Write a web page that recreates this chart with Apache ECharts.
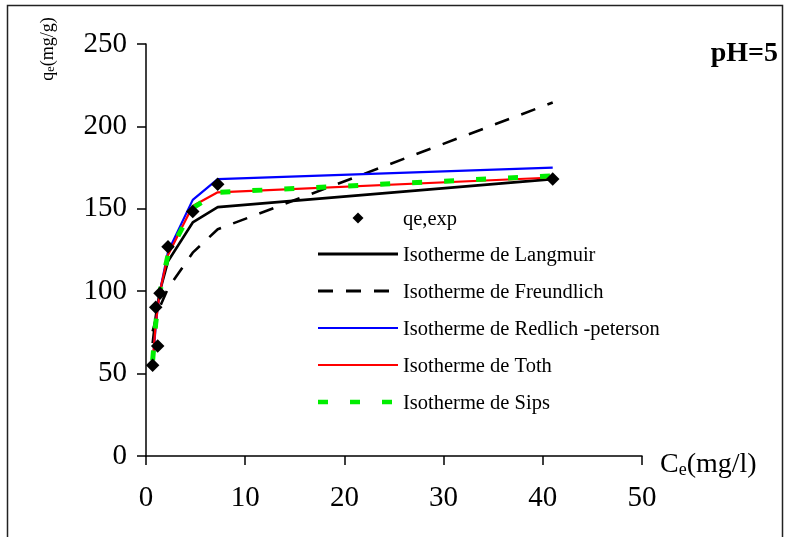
<!DOCTYPE html>
<html>
<head>
<meta charset="utf-8">
<script src="https://cdn.jsdelivr.net/npm/echarts@6/dist/echarts.min.js"></script>
<style>
  html, body { margin: 0; padding: 0; background: #fff; }
  #chart { width: 790px; height: 537px; }
</style>
</head>
<body>
<div id="chart"></div>
<script>
// Experimental equilibrium points (Ce in mg/l, qe in mg/g), pH = 5
const ceExp = [0.67, 1.18, 0.98, 1.41, 2.22, 4.71, 7.23, 41.0];
const qeExp = [55.1, 66.8, 90.2, 98.7, 127.0, 148.3, 164.9, 168.1];

// Model isotherms evaluated at the experimental concentrations (sorted)
const ceModel = [0.67, 0.98, 1.18, 1.41, 2.22, 4.71, 7.23, 41.0];
const qLangmuir = [68.5, 84.6, 92.6, 100.2, 118.2, 141.7, 151.0, 168.0];
const qFreundlich = [75.6, 82.7, 86.7, 90.7, 101.8, 123.4, 137.6, 214.5];
const qRedlichPeterson = [55.0, 79.0, 90.0, 100.0, 124.0, 155.4, 168.0, 175.0];
const qToth = [57.0, 80.0, 90.0, 100.0, 122.0, 151.7, 160.0, 169.0];
const qSips = [58.0, 80.5, 90.0, 100.0, 122.0, 150.5, 160.0, 170.0];

// Axis ticks
const xTicks = [0, 10, 20, 30, 40, 50];
const yTicks = [0, 50, 100, 150, 200, 250];

const seriesNames = [
  'qe,exp',
  'Isotherme de Langmuir',
  'Isotherme de Freundlich',
  'Isotherme de Redlich -peterson',
  'Isotherme de Toth',
  'Isotherme de Sips'
];

const SERIF = "'Liberation Serif', 'Times New Roman', serif";

// Line styles shared by the plotted curves and the key
const styles = {
  [seriesNames[1]]: { color: '#000000', width: 2.6, dash: 'solid', keyWidth: 3 },
  [seriesNames[2]]: { color: '#000000', width: 2.6, dash: [15, 13], keyWidth: 3 },
  [seriesNames[3]]: { color: '#0000ff', width: 2.2, dash: 'solid', keyWidth: 2.2 },
  [seriesNames[4]]: { color: '#ff0000', width: 2.2, dash: 'solid', keyWidth: 2.2 },
  [seriesNames[5]]: { color: '#00ee00', width: 5, dash: [10, 22], keyWidth: 4.5 }
};

function pairs(xs, ys) {
  return xs.map((x, i) => [x, ys[i]]);
}

function lineSeries(name, ys) {
  const s = styles[name];
  return {
    name: name,
    type: 'line',
    data: pairs(ceModel, ys),
    symbol: 'none',
    smooth: false,
    z: 2,
    lineStyle: { color: s.color, width: s.width, type: s.dash, cap: 'butt' },
    itemStyle: { color: s.color },
    emphasis: { disabled: true },
    animation: false
  };
}

// Key drawn as a small block of graphic elements
function buildKey() {
  const left = 318, right = 398, textX = 403;
  const rows = [218, 254, 291, 328, 365, 402];
  const els = [];
  seriesNames.forEach((name, i) => {
    const y = rows[i];
    if (i === 0) {
      const cx = (left + right) / 2, r = 5.5;
      els.push({
        type: 'polygon',
        shape: { points: [[cx, y - r], [cx + r, y], [cx, y + r], [cx - r, y]] },
        style: { fill: '#000' },
        silent: true
      });
    } else {
      const s = styles[name];
      els.push({
        type: 'line',
        shape: { x1: left, y1: y, x2: right, y2: y },
        style: {
          stroke: s.color,
          lineWidth: s.keyWidth,
          lineDash: Array.isArray(s.dash) ? s.dash : null,
          lineCap: 'butt'
        },
        silent: true
      });
    }
    els.push({
      type: 'text',
      x: textX,
      y: y + 2,
      style: {
        text: name,
        fontFamily: SERIF,
        fontSize: 20.5,
        fill: '#000',
        align: 'left',
        verticalAlign: 'middle'
      },
      silent: true
    });
  });
  return els;
}

const chart = echarts.init(document.getElementById('chart'), null, { renderer: 'canvas' });

chart.setOption({
  backgroundColor: '#ffffff',
  animation: false,
  grid: { left: 146, right: 148, top: 44, bottom: 81, containLabel: false },
  xAxis: {
    type: 'value',
    min: xTicks[0],
    max: xTicks[xTicks.length - 1],
    interval: xTicks[1] - xTicks[0],
    name: '{m|C}{s|e}{m|(mg/l)}',
    nameLocation: 'end',
    nameGap: 18,
    nameTextStyle: {
      padding: [14, 0, 0, 0],
      rich: {
        m: { fontFamily: SERIF, fontSize: 28, color: '#000', lineHeight: 32, verticalAlign: 'bottom' },
        s: { fontFamily: SERIF, fontSize: 18, color: '#000', lineHeight: 18, verticalAlign: 'bottom' }
      }
    },
    axisLine: { show: true, onZero: false, lineStyle: { color: '#000', width: 1.5 } },
    axisTick: { show: true, inside: false, length: 9, lineStyle: { color: '#000', width: 1.5 } },
    axisLabel: { margin: 28, fontFamily: SERIF, fontSize: 29, color: '#000' },
    splitLine: { show: false }
  },
  yAxis: {
    type: 'value',
    min: yTicks[0],
    max: yTicks[yTicks.length - 1],
    interval: yTicks[1] - yTicks[0],
    axisLine: { show: true, onZero: false, lineStyle: { color: '#000', width: 1.5 } },
    axisTick: { show: true, inside: false, length: 9, lineStyle: { color: '#000', width: 1.5 } },
    axisLabel: { margin: 19, fontFamily: SERIF, fontSize: 29, color: '#000' },
    splitLine: { show: false }
  },
  graphic: [
    {
      type: 'rect',
      shape: { x: 7.5, y: 5.5, width: 775, height: 545 },
      style: { fill: 'none', stroke: '#222', lineWidth: 1.5 },
      silent: true,
      z: 0
    },
    {
      type: 'text',
      x: 46,
      y: 49,
      rotation: Math.PI / 2,
      style: {
        text: '{m|q}{s|e}{m|(mg/g)}',
        align: 'center',
        verticalAlign: 'middle',
        rich: {
          m: { fontFamily: SERIF, fontSize: 18, fill: '#000', lineHeight: 22, verticalAlign: 'bottom' },
          s: { fontFamily: SERIF, fontSize: 12, fill: '#000', lineHeight: 12, verticalAlign: 'bottom' }
        }
      },
      silent: true
    },
    {
      type: 'text',
      right: 12,
      top: 40,
      style: {
        text: 'pH=5',
        fontFamily: SERIF,
        fontSize: 28,
        fontWeight: 'bold',
        fill: '#000'
      },
      silent: true
    },
    {
      type: 'group',
      silent: true,
      children: buildKey()
    }
  ],
  series: [
    {
      name: seriesNames[0],
      type: 'scatter',
      data: pairs(ceExp, qeExp),
      symbol: 'diamond',
      symbolSize: 13.5,
      z: 5,
      itemStyle: { color: '#000', opacity: 1 },
      emphasis: { disabled: true },
      animation: false
    },
    lineSeries(seriesNames[1], qLangmuir),
    lineSeries(seriesNames[2], qFreundlich),
    lineSeries(seriesNames[3], qRedlichPeterson),
    lineSeries(seriesNames[4], qToth),
    lineSeries(seriesNames[5], qSips)
  ]
});
</script>
</body>
</html>
